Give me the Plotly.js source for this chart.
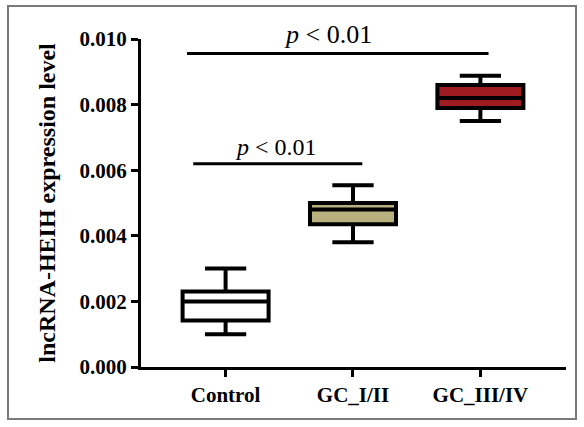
<!DOCTYPE html>
<html>
<head>
<meta charset="utf-8">
<script src="https://cdn.plot.ly/plotly-3.0.1.min.js"></script>
<style>
  html, body { margin: 0; padding: 0; background: #fff; }
  #chart { width: 584px; height: 427px; position: relative; }
  #frame { position: absolute; left: 7px; top: 5px; width: 570px; height: 415px;
           border: 2px solid #7a7a7a; pointer-events: none; box-sizing: border-box; }
</style>
</head>
<body>
<div id="chart"></div>
<div id="frame"></div>
<script>
// ---- data ----
const categories = ["Control", "GC_I/II", "GC_III/IV"];
const lowerWhisker = [0.0010, 0.0038, 0.0075];
const q1Values     = [0.00142, 0.00435, 0.0079];
const medianValues = [0.0020, 0.0048, 0.0082];
const q3Values     = [0.0023, 0.0050, 0.0086];
const upperWhisker = [0.0030, 0.00554, 0.00888];
const yTickValues  = [0, 0.002, 0.004, 0.006, 0.008, 0.010];
const pLabel = "<i>p</i> < 0.01";

// ---- styles ----
const fills = ["#ffffff", "#b8b07e", "#9e1c21"];
const serif = "Liberation Serif, Times New Roman, serif";

const traces = categories.map((c, i) => ({
  type: "box",
  name: c,
  x: [c],
  q1: [q1Values[i]],
  median: [medianValues[i]],
  q3: [q3Values[i]],
  lowerfence: [lowerWhisker[i]],
  upperfence: [upperWhisker[i]],
  width: 0.675,
  whiskerwidth: 0.48,
  fillcolor: fills[i],
  line: { color: "#000", width: 4 },
  boxpoints: false,
  hoverinfo: "skip",
  showlegend: false
}));

const layout = {
  width: 584, height: 427,
  margin: { l: 141, r: 18, t: 39, b: 60 },
  paper_bgcolor: "#fff", plot_bgcolor: "#fff",
  showlegend: false,
  xaxis: {
    type: "category",
    categoryorder: "array", categoryarray: categories,
    range: [-0.664, 2.672],
    showline: true, linecolor: "#000", linewidth: 3,
    ticks: "outside", ticklen: 7, tickwidth: 3, tickcolor: "#000",
    showgrid: false, zeroline: false,
    tickfont: { family: serif, size: 21, color: "#000", weight: "bold" }
  },
  yaxis: {
    range: [0, 0.010],
    tickvals: yTickValues,
    tickformat: ".3f",
    showline: true, linecolor: "#000", linewidth: 3,
    ticks: "outside", ticklen: 7, tickwidth: 3, tickcolor: "#000",
    showgrid: false, zeroline: false,
    tickfont: { family: serif, size: 21, color: "#000", weight: "bold" },
    title: { text: "lncRNA-HEIH expression level", standoff: 18,
             font: { family: serif, size: 24, color: "#000", weight: "bold" } }
  },
  shapes: [
    { type: "line", xref: "x", yref: "y", x0: -0.254, x1: 1.073, y0: 0.0062, y1: 0.0062,
      line: { color: "#000", width: 3 } },
    { type: "line", xref: "x", yref: "y", x0: -0.303, x1: 2.064, y0: 0.00956, y1: 0.00956,
      line: { color: "#000", width: 3 } }
  ],
  annotations: [
    { xref: "x", yref: "y", x: 0.397, y: 0.0062, yanchor: "bottom", yshift: 2,
      text: pLabel, showarrow: false,
      font: { family: serif, size: 24, color: "#000" } },
    { xref: "x", yref: "y", x: 0.80, y: 0.00956, yanchor: "bottom", yshift: 2,
      text: pLabel, showarrow: false,
      font: { family: serif, size: 26, color: "#000" } }
  ]
};

Plotly.newPlot("chart", traces, layout, { staticPlot: true, displayModeBar: false });
</script>
</body>
</html>
